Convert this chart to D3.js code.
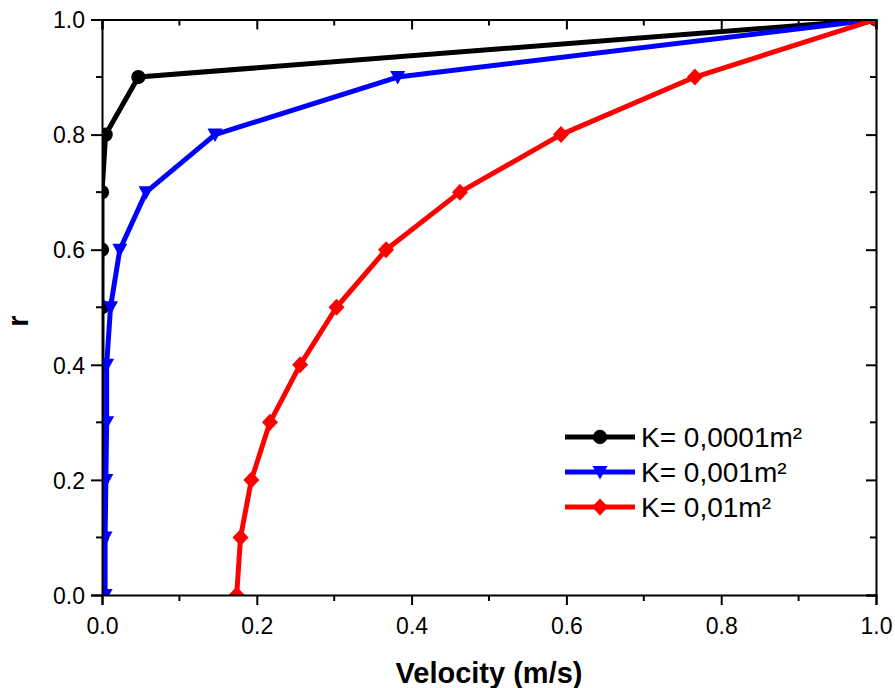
<!DOCTYPE html>
<html>
<head>
<meta charset="utf-8">
<script src="https://cdn.jsdelivr.net/npm/d3@7"></script>
<style>
  html, body { margin: 0; padding: 0; background: #fff; }
  svg { display: block; font-family: Arial, "Liberation Sans", sans-serif; }
</style>
</head>
<body>
<svg id="chart" width="895" height="688"></svg>
<script>
// ---- data ----
const rValues = [0, 0.1, 0.2, 0.3, 0.4, 0.5, 0.6, 0.7, 0.8, 0.9, 1.0];
const velK0001 = [0, 0, 0, 0, 0, 0, 0, 0, 0.0047, 0.047, 1.0];
const velK001  = [0.004, 0.004, 0.005, 0.006, 0.006, 0.011, 0.023, 0.057, 0.146, 0.382, 1.0];
const velK01   = [0.174, 0.179, 0.193, 0.217, 0.256, 0.303, 0.367, 0.4625, 0.593, 0.766, 1.0];
const seriesNames = ["K= 0,0001m²", "K= 0,001m²", "K= 0,01m²"];
const seriesColors = ["#000000", "#0000ff", "#ff0000"];
const seriesMarkers = ["circle", "triangleDown", "diamond"];
const xTickValues = [0, 0.2, 0.4, 0.6, 0.8, 1.0];
const yTickValues = [0, 0.2, 0.4, 0.6, 0.8, 1.0];
const xMinorTicks = [0.1, 0.3, 0.5, 0.7, 0.9];
const yMinorTicks = [0.1, 0.3, 0.5, 0.7, 0.9];
const xTitle = "Velocity (m/s)";
const yTitle = "r";

const seriesVel = [velK0001, velK001, velK01];

// ---- layout ----
const svg = d3.select("#chart");
const mLeft = 102, mRight = 876, mTop = 19.5, mBottom = 595;
const x = d3.scaleLinear().domain([0, 1]).range([mLeft, mRight]);
const y = d3.scaleLinear().domain([0, 1]).range([mBottom, mTop]);

const fmt = d3.format(".1f");
const axisColor = "#000";

svg.append("defs").append("clipPath").attr("id", "plotclip")
  .append("rect").attr("x", mLeft).attr("y", mTop)
  .attr("width", mRight - mLeft).attr("height", mBottom - mTop);

// ---- series (clipped to plot area) ----
function markerPath(type) {
  if (type === "circle") return d3.symbol(d3.symbolCircle, 160)();
  if (type === "triangleDown") return "M-7.5,-6L7.5,-6L0,7.5Z";
  return "M0,-8.5L8,0L0,8.5L-8,0Z";
}
const line = d3.line().x(d => x(d[0])).y(d => y(d[1]));
const plot = svg.append("g").attr("clip-path", "url(#plotclip)");
seriesVel.forEach((vals, i) => {
  const pts = vals.map((v, j) => [v, rValues[j]]);
  const g = plot.append("g");
  g.append("path").datum(pts).attr("d", line)
    .attr("fill", "none").attr("stroke", seriesColors[i]).attr("stroke-width", 5)
    .attr("stroke-linejoin", "round");
  g.selectAll("path.m").data(pts).join("path").attr("class", "m")
    .attr("transform", d => `translate(${x(d[0])},${y(d[1])})`)
    .attr("d", markerPath(seriesMarkers[i]))
    .attr("fill", seriesColors[i]);
});

// ---- axes ----
const gx = svg.append("g").attr("transform", `translate(0,${mBottom})`)
  .call(d3.axisBottom(x).tickValues(xTickValues).tickFormat(fmt).tickSize(10).tickPadding(5));
gx.append("g").selectAll("line").data(xMinorTicks).join("line")
  .attr("x1", d => x(d)).attr("x2", d => x(d)).attr("y1", 0).attr("y2", 6);
const gy = svg.append("g").attr("transform", `translate(${mLeft},0)`)
  .call(d3.axisLeft(y).tickValues(yTickValues).tickFormat(fmt).tickSize(11).tickPadding(6));
gy.append("g").selectAll("line").data(yMinorTicks).join("line")
  .attr("x1", 0).attr("x2", -6).attr("y1", d => y(d)).attr("y2", d => y(d));
const gt = svg.append("g").attr("transform", `translate(0,${mTop})`)
  .call(d3.axisTop(x).tickValues(xTickValues).tickFormat("").tickSize(-10));
gt.append("g").selectAll("line").data(xMinorTicks).join("line")
  .attr("x1", d => x(d)).attr("x2", d => x(d)).attr("y1", 0).attr("y2", 6);
const gr = svg.append("g").attr("transform", `translate(${mRight},0)`)
  .call(d3.axisRight(y).tickValues(yTickValues).tickFormat("").tickSize(-10));
gr.append("g").selectAll("line").data(yMinorTicks).join("line")
  .attr("x1", 0).attr("x2", -6).attr("y1", d => y(d)).attr("y2", d => y(d));

[gx, gy, gt, gr].forEach(g => {
  g.select(".domain").attr("stroke", axisColor).attr("stroke-width", 2);
  g.selectAll("line").attr("stroke", axisColor).attr("stroke-width", 2);
  g.selectAll("text").attr("fill", "#000").style("font-size", "23px")
    .style("font-family", 'Arial, "Liberation Sans", sans-serif');
});
gx.selectAll(".tick text").attr("dy", null).attr("y", 0).attr("transform", "translate(0,39)");
gy.selectAll(".tick text").attr("dy", "0.36em");

// Axis titles
svg.append("text").attr("x", (mLeft + mRight) / 2).attr("y", 683)
  .attr("text-anchor", "middle").style("font-size", "29px").style("font-weight", "bold")
  .text(xTitle);
svg.append("text").attr("transform", "translate(28,321) rotate(-90)")
  .attr("text-anchor", "middle").style("font-size", "29px").style("font-weight", "bold")
  .text(yTitle);

// ---- legend ----
const legendY = [437, 472, 507];
const lg = svg.append("g");
seriesNames.forEach((name, i) => {
  const yy = legendY[i];
  lg.append("line").attr("x1", 565).attr("x2", 635).attr("y1", yy).attr("y2", yy)
    .attr("stroke", seriesColors[i]).attr("stroke-width", 5);
  lg.append("path").attr("transform", `translate(600,${yy})`)
    .attr("d", markerPath(seriesMarkers[i])).attr("fill", seriesColors[i]);
  lg.append("text").attr("x", 641).attr("y", yy + 10).style("font-size", "28px")
    .text(name);
});
</script>
</body>
</html>
